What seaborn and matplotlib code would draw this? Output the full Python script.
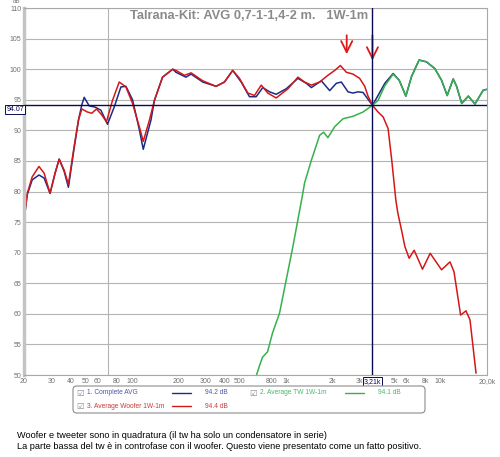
import matplotlib
matplotlib.use('Agg')
import matplotlib.pyplot as plt
import matplotlib.transforms as mtransforms
from matplotlib.patches import FancyBboxPatch
from matplotlib.lines import Line2D
import pandas as pd
import seaborn as sns

# ── Dati ──────────────────────────────────────────────────────────────────────
freq_complete = [20, 21.0, 22.6, 25.0, 27.0, 29.5, 31.8, 33.8, 36.4, 38.8, 42.2, 45.1,
                 47.4, 49.1, 52.9, 57.8, 63.0, 69.5, 76.8, 84.9, 91.5, 101, 112, 118.5,
                 133, 140, 158, 184, 193, 224, 242, 288, 351, 398, 450, 511, 578, 639,
                 705, 780, 861, 1000, 1191, 1349, 1455, 1689, 1913, 2114, 2276, 2514,
                 2710, 2918, 3146, 3620, 3936, 4356, 4932, 5396, 5960, 6486, 7262, 8110,
                 9184, 10150, 11040, 12080, 12710, 13710, 15140, 16710, 18930, 20000]
db_complete = [75.3, 79.5, 81.9, 82.7, 82.2, 79.7, 83.0, 85.3, 83.3, 80.7, 87.0, 91.7,
               94.2, 95.4, 94.0, 93.8, 93.3, 91.0, 93.8, 97.1, 97.2, 95.0, 90.0, 86.9,
               91.7, 94.9, 98.7, 100.0, 99.5, 98.7, 99.2, 97.9, 97.2, 97.9, 99.8, 97.9,
               95.5, 95.5, 97.0, 96.3, 95.9, 96.8, 98.5, 97.7, 97.0, 98.1, 96.5, 97.7,
               97.9, 96.3, 96.1, 96.3, 96.2, 94.1, 95.7, 97.7, 99.3, 98.2, 95.6, 98.8,
               101.5, 101.2, 100.1, 98.2, 95.7, 98.4, 97.2, 94.4, 95.6, 94.3, 96.6, 96.7]

freq_woofer = [20, 21.0, 22.6, 25.0, 27.0, 29.5, 31.8, 33.8, 36.4, 38.8, 42.2, 45.1,
               47.4, 51.5, 55.0, 59.0, 63.9, 68.4, 74.9, 82.8, 91.5, 101, 112, 118.5,
               130, 140, 158, 184, 193, 219, 242, 288, 351, 398, 450, 498, 564, 623,
               689, 760, 861, 1026, 1191, 1315, 1455, 1647, 1862, 2062, 2244, 2454,
               2710, 2992, 3228, 3388, 3620, 3936, 4246, 4572, 4830, 5132, 5286, 5586,
               5876, 6256, 6746, 7638, 8570, 10150, 11510, 12220, 13490, 14620, 15520,
               16980]
db_woofer = [75.3, 79.7, 82.4, 84.1, 83.0, 79.7, 83.0, 85.3, 83.5, 81.2, 87.3, 91.7,
             93.5, 93.0, 92.8, 93.5, 92.5, 91.4, 94.9, 97.9, 97.1, 94.4, 90.5, 88.2,
             91.7, 94.9, 98.7, 100.0, 99.8, 99.0, 99.4, 98.1, 97.2, 97.9, 99.8, 98.5,
             96.1, 95.7, 97.4, 96.1, 95.3, 96.8, 98.7, 97.9, 97.4, 97.9, 99.0, 99.8,
             100.6, 99.5, 99.2, 98.5, 97.2, 95.6, 94.1, 93.0, 92.2, 90.3, 85.1, 78.6,
             76.5, 73.7, 71.0, 69.1, 70.4, 67.3, 69.9, 67.2, 68.5, 66.9, 59.8, 60.5,
             59.0, 50.3]

freq_tw = [642, 671, 702, 757, 816, 905, 990, 1105, 1277, 1315, 1455, 1647, 1749, 1862,
           2062, 2334, 2710, 3146, 3620, 3936, 4356, 4932, 5396, 5960, 6486, 7262, 8110,
           9184, 10150, 11040, 12080, 12710, 13710, 15140, 16710, 18930, 20000]
db_tw = [50.0, 51.5, 52.9, 53.8, 56.9, 60.1, 65.0, 71.0, 79.5, 81.4, 85.1, 89.2, 89.7,
         88.8, 90.6, 91.9, 92.3, 93.0, 94.1, 94.9, 97.3, 99.2, 98.2, 95.6, 98.8, 101.5,
         101.2, 100.1, 98.2, 95.7, 98.4, 97.2, 94.4, 95.6, 94.3, 96.6, 96.7]

serie_nomi = ['1. Complete AVG', '3. Average Woofer 1W-1m', '2. Average TW 1W-1m']
serie_livelli = ['94.2 dB', '94.4 dB', '94.1 dB']

cursore_freq = 3620
cursore_db = 94.07
cursore_testi = ['3,21k', '94.07']

frecce_freq = [2466, 3620]
frecce_da = [106.0, 106.0]
frecce_a = [102.0, 101.0]

x_ticks = [20, 30, 40, 50, 60, 80, 100, 200, 300, 400, 500, 800, 1000, 2000, 3000,
           5000, 6000, 8000, 10000, 20000]
x_labels = ['20', '30', '40', '50', '60', '80', '100', '200', '300', '400', '500', '800',
            '1k', '2k', '3k', '5k', '6k', '8k', '10k', '20,0k']
x_griglia = [30, 50, 70, 80, 200, 300, 500, 800, 2000, 3000, 5000, 8000]
y_ticks = list(range(50, 111, 5))

titolo = 'Talrana-Kit: AVG 0,7-1-1,4-2 m.   1W-1m'
nota = ['Woofer e tweeter sono in quadratura (il tw ha solo un condensatore in serie)',
        'La parte bassa del tw è in controfase con il woofer. Questo viene presentato come un fatto positivo.']

COLORI = {'1. Complete AVG': '#1c2c86',
          '3. Average Woofer 1W-1m': '#d41818',
          '2. Average TW 1W-1m': '#34b24c'}
COLORI_TESTO = {'1. Complete AVG': '#4a5aa8',
                '3. Average Woofer 1W-1m': '#c83a3a',
                '2. Average TW 1W-1m': '#48b868'}

# ── Figura ────────────────────────────────────────────────────────────────────
sns.set_style('white')
plt.rcParams['font.family'] = ['Liberation Sans', 'DejaVu Sans']

df = pd.concat([
    pd.DataFrame({'freq': freq_complete, 'db': db_complete, 'serie': serie_nomi[0]}),
    pd.DataFrame({'freq': freq_woofer, 'db': db_woofer, 'serie': serie_nomi[1]}),
    pd.DataFrame({'freq': freq_tw, 'db': db_tw, 'serie': serie_nomi[2]}),
])

fig = plt.figure(figsize=(5, 4.57), dpi=100)
ax = fig.add_axes([0.048, 0.1794, 0.926, 0.803])

sns.lineplot(data=df, x='freq', y='db', hue='serie', hue_order=serie_nomi,
             palette=COLORI, estimator=None, sort=False, linewidth=1.1,
             legend=False, ax=ax, solid_joinstyle='round')

ax.set_xscale('log')
ax.set_xlim(20, 20000)
ax.set_ylim(50, 110)
ax.set_xlabel('')
ax.set_ylabel('')

ax.set_xticks(x_ticks)
ax.set_xticklabels(x_labels)
ax.set_xticks(x_griglia, minor=True)
ax.xaxis.set_minor_formatter(matplotlib.ticker.NullFormatter())
ax.set_yticks(y_ticks)
ax.set_yticklabels([str(v) for v in y_ticks])
ax.tick_params(axis='both', which='both', length=0, labelsize=5, colors='#707070', pad=2)

ax.grid(False)
ax.xaxis.grid(True, which='minor', color='#b4b4b4', lw=0.8)
ax.yaxis.grid(True, which='major', color='#b4b4b4', lw=0.8)
ax.set_axisbelow(True)

for s in ax.spines.values():
    s.set_color('#a8a8a8')
    s.set_linewidth(0.8)
ax.spines['left'].set_color('#c4c4c4')
ax.spines['left'].set_linewidth(2.5)

# cursori
ax.axhline(cursore_db, color='#0a0a50', lw=1.0, zorder=5)
ax.axvline(cursore_freq, color='#0a0a50', lw=1.0, zorder=5)
tr_y = mtransforms.blended_transform_factory(ax.transAxes, ax.transData)
tr_x = mtransforms.blended_transform_factory(ax.transData, ax.transAxes)
ax.text(0, cursore_db - 0.6, cursore_testi[1], transform=tr_y, ha='right', va='center',
        fontsize=5, color='#0a0a50', clip_on=False, zorder=6,
        bbox=dict(boxstyle='square,pad=0.15', fc='white', ec='#0a0a50', lw=0.7))
ax.text(cursore_freq, -0.008, cursore_testi[0], transform=tr_x, ha='center', va='top',
        fontsize=5, color='#0a0a50', clip_on=False,
        bbox=dict(boxstyle='square,pad=0.15', fc='white', ec='#0a0a50', lw=0.7))

# frecce rosse
for f, y0, y1 in zip(frecce_freq, frecce_da, frecce_a):
    ax.annotate('', xy=(f, y1), xytext=(f, y0),
                arrowprops=dict(arrowstyle='->,head_length=0.8,head_width=0.4',
                                color='#e01818', lw=1.3, mutation_scale=10))

ax.text(0.487, 0.995, titolo, transform=ax.transAxes, ha='center', va='top',
        fontsize=9.3, fontweight='bold', color='#8a8a8a')
fig.text(13 / 500, 1 + 1 / 457, 'dB', fontsize=4.5, color='#707070', ha='left', va='top')

# ── Legenda ───────────────────────────────────────────────────────────────────
def fx(px): return px / 500
def fy(py): return 1 - py / 457

fig.add_artist(FancyBboxPatch((fx(73), fy(413)), fx(352), 27 / 457,
                              boxstyle='round,pad=0,rounding_size=0.008',
                              transform=fig.transFigure, fc='white', ec='#8c8c8c', lw=0.8))
posizioni = {serie_nomi[0]: (80, 393), serie_nomi[2]: (253, 393), serie_nomi[1]: (80, 406)}
for nome, livello in zip(serie_nomi, serie_livelli):
    px, py = posizioni[nome]
    fig.text(fx(px), fy(py), '\u2611', fontsize=6, color='#8a8a8a', ha='center',
             va='center', family=['DejaVu Sans'])
    fig.text(fx(px + 7), fy(py), nome, fontsize=4.8, color=COLORI_TESTO[nome],
             ha='left', va='center')
    fig.add_artist(Line2D([fx(px + 92), fx(px + 111)], [fy(py), fy(py)],
                          color=COLORI[nome], lw=1.0, transform=fig.transFigure))
    fig.text(fx(px + 125), fy(py), livello, fontsize=4.8, color=COLORI_TESTO[nome],
             ha='left', va='center')

for i, riga in enumerate(nota):
    fig.text(fx(17), fy(431 + 11 * i), riga, fontsize=6.6, color='black', ha='left', va='top')

fig.savefig('out.png', dpi=100, facecolor='white')
